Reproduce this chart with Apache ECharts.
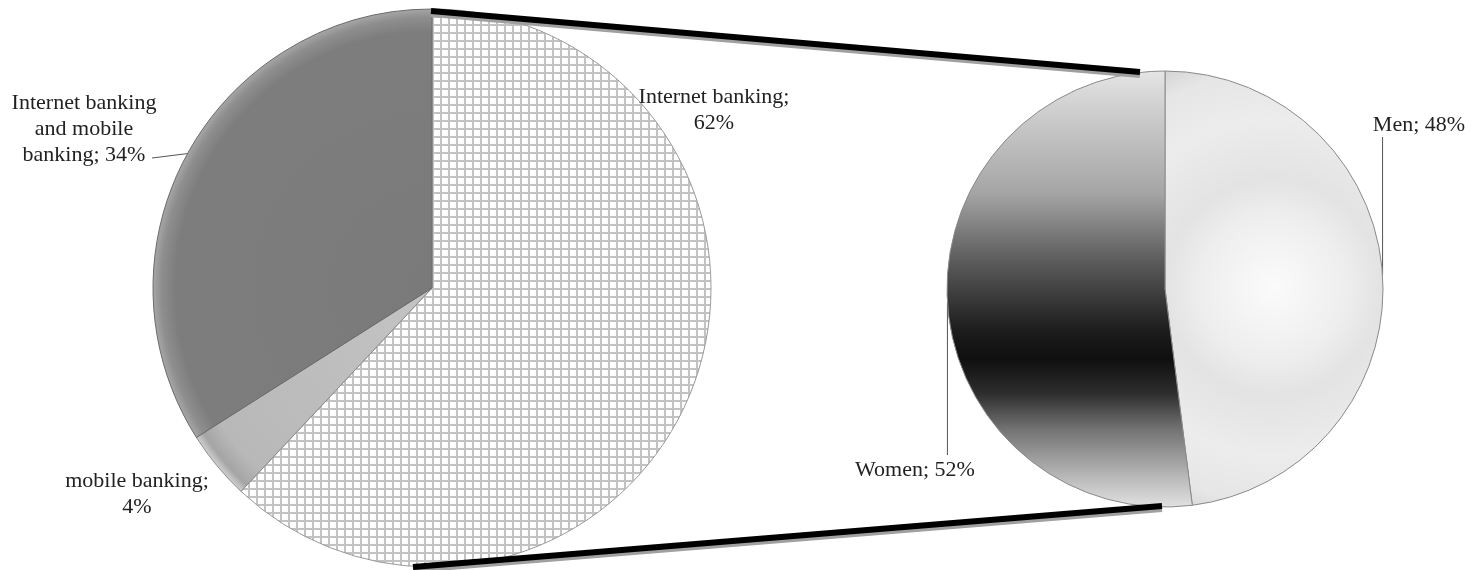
<!DOCTYPE html>
<html>
<head>
<meta charset="utf-8">
<script src="https://cdn.jsdelivr.net/npm/echarts@6/dist/echarts.min.js"></script>
<style>
html,body{margin:0;padding:0;background:#fff;}
#chart{width:1481px;height:570px;}
</style>
</head>
<body>
<div id="chart"></div>
<script>
// ---- data ----
const leftCategories = ['Internet banking', 'mobile banking', 'Internet banking and mobile banking'];
const leftValues = [62, 4, 34];
const rightCategories = ['Men', 'Women'];
const rightValues = [48, 52];

// ---- layout (positions / styles only) ----
const L = { cx: 432, cy: 288, r: 279 };
const R = { cx: 1165, cy: 289, r: 218 };
const FONT = 'Liberation Serif';
const leftLabelPos = [
  { x: 714, y: 110 },
  { x: 137, y: 494 },
  { x: 84, y: 129, lineEnd: [152, 158] }
];
const rightLabelPos = [
  { x: 1419, y: 125, lineEndY: 137 },
  { x: 915, y: 470, lineEndY: 455 }
];

function wrap(text, maxChars) {
  const words = text.split(' ');
  const lines = [];
  let cur = '';
  words.forEach(w => {
    const t = cur ? cur + ' ' + w : w;
    if (t.length > maxChars && cur) { lines.push(cur); cur = w; } else { cur = t; }
  });
  if (cur) lines.push(cur);
  return lines.join('\n');
}

// grid pattern
const pc = document.createElement('canvas');
pc.width = 8; pc.height = 8;
const g = pc.getContext('2d');
g.fillStyle = '#ffffff'; g.fillRect(0, 0, 8, 8);
g.fillStyle = '#c2c2c2'; g.fillRect(0, 0, 8, 2); g.fillRect(0, 0, 2, 8);

const leftStyles = [
  { color: { image: pc, repeat: 'repeat' }, borderColor: '#9a9a9a', borderWidth: 1 },
  { color: { type: 'radial', x: L.cx, y: L.cy, r: L.r, global: true,
      colorStops: [{ offset: 0, color: '#c4c4c4' }, { offset: 0.9, color: '#b8b8b8' }, { offset: 0.97, color: '#a5a5a5' }, { offset: 1, color: '#d0d0d0' }] },
    borderColor: '#8a8a8a', borderWidth: 1 },
  { color: { type: 'radial', x: L.cx, y: L.cy, r: L.r, global: true,
      colorStops: [{ offset: 0, color: '#7a7a7a' }, { offset: 0.92, color: '#7d7d7d' }, { offset: 0.97, color: '#8e8e8e' }, { offset: 1, color: '#a6a6a6' }] },
    borderColor: '#6a6a6a', borderWidth: 1 }
];
const rightStyles = [
  { color: { type: 'radial', x: 1273, y: 287, r: 240, global: true,
      colorStops: [{ offset: 0, color: '#fbfbfb' }, { offset: 0.3, color: '#eeeeee' }, { offset: 0.45, color: '#e3e3e3' }, { offset: 0.7, color: '#ececec' }, { offset: 0.9, color: '#e6e6e6' }, { offset: 1, color: '#d5d5d5' }] },
    borderColor: '#8a8a8a', borderWidth: 1 },
  { color: { type: 'linear', x: 0, y: 0, x2: 0, y2: 1,
      colorStops: [{ offset: 0, color: '#e6e6e6' }, { offset: 0.05, color: '#d8d8d8' }, { offset: 0.28, color: '#a5a5a5' }, { offset: 0.43, color: '#5e5e5e' }, { offset: 0.59, color: '#1e1e1e' }, { offset: 0.66, color: '#0f0f0f' }, { offset: 0.74, color: '#2e2e2e' }, { offset: 0.82, color: '#727272' }, { offset: 0.93, color: '#b8b8b8' }, { offset: 1, color: '#e2e2e2' }] },
    borderColor: '#8a8a8a', borderWidth: 1 }
];

const labelBase = { color: '#222', fontFamily: FONT, fontSize: 22, lineHeight: 26, align: 'center', overflow: 'none' };
const lineStyle = { color: '#555', width: 1 };

const leftData = leftCategories.map((n, i) => ({
  name: n, value: leftValues[i], itemStyle: leftStyles[i],
  labelLine: { show: i === 2, lineStyle }
}));
const rightData = rightCategories.map((n, i) => ({
  name: n, value: rightValues[i], itemStyle: rightStyles[i],
  labelLine: { show: true, lineStyle }
}));

const chart = echarts.init(document.getElementById('chart'));
chart.setOption({
  backgroundColor: '#fff',
  animation: false,
  series: [
    {
      type: 'pie', center: [L.cx, L.cy], radius: L.r, startAngle: 90, clockwise: true,
      data: leftData,
      label: Object.assign({ show: true, position: 'outside',
        formatter: p => wrap(p.name + '; ' + p.percent + '%', 17) }, labelBase),
      labelLine: { show: false, length: 5, length2: 5 },
      labelLayout: p => {
        const pos = leftLabelPos[p.dataIndex];
        const out = { x: pos.x, y: pos.y, align: 'center', verticalAlign: 'middle' };
        if (pos.lineEnd && p.labelLinePoints) {
          const s = p.labelLinePoints[0];
          out.labelLinePoints = [s, pos.lineEnd, pos.lineEnd];
        }
        return out;
      },
      emphasis: { disabled: true }
    },
    {
      type: 'pie', center: [R.cx, R.cy], radius: R.r, startAngle: 90, clockwise: true,
      data: rightData,
      label: Object.assign({ show: true, position: 'outside',
        formatter: p => p.name + '; ' + p.percent + '%' }, labelBase),
      labelLine: { show: true, length: 5, length2: 5 },
      labelLayout: p => {
        const pos = rightLabelPos[p.dataIndex];
        const out = { x: pos.x, y: pos.y, align: 'center', verticalAlign: 'middle' };
        if (p.labelLinePoints) {
          const s = p.labelLinePoints[0];
          out.labelLinePoints = [s, [s[0], pos.lineEndY], [s[0], pos.lineEndY]];
        }
        return out;
      },
      emphasis: { disabled: true }
    }
  ],
  graphic: [
    { type: 'line', z: 10, shape: { x1: L.cx - 1, y1: L.cy - L.r + 5, x2: 1140, y2: 75 }, style: { stroke: '#a0a0a0', lineWidth: 6 } },
    { type: 'line', z: 11, shape: { x1: L.cx - 1, y1: L.cy - L.r + 2, x2: 1140, y2: 72 }, style: { stroke: '#000', lineWidth: 6 } },
    { type: 'line', z: 10, shape: { x1: 413, y1: L.cy + L.r + 3, x2: 1162, y2: 509 }, style: { stroke: '#a0a0a0', lineWidth: 6 } },
    { type: 'line', z: 11, shape: { x1: 413, y1: L.cy + L.r, x2: 1162, y2: 506 }, style: { stroke: '#000', lineWidth: 6 } }
  ]
});
</script>
</body>
</html>
